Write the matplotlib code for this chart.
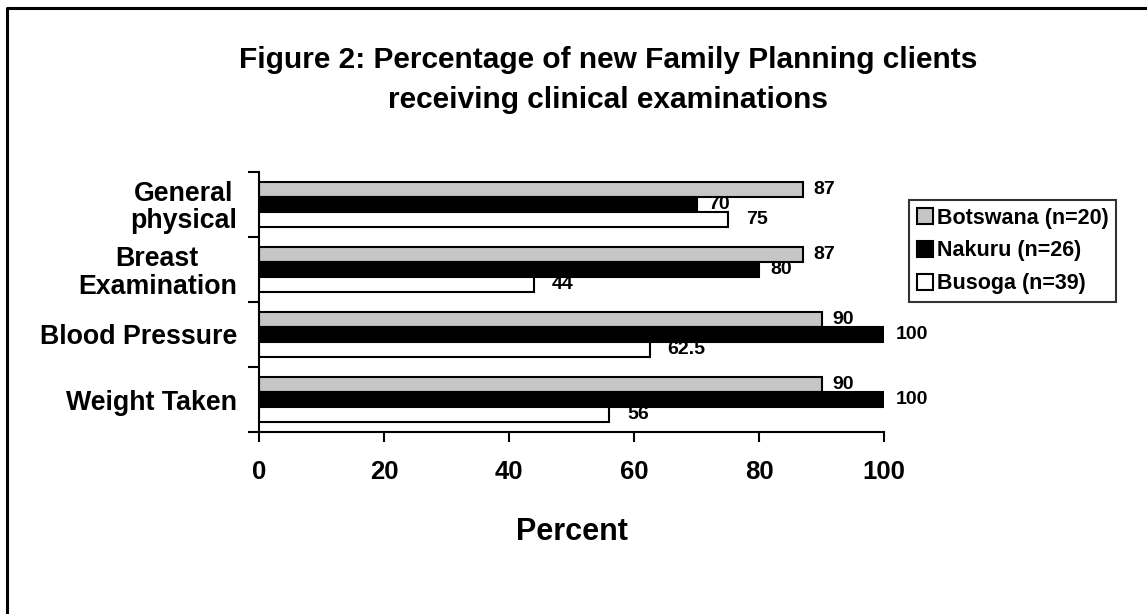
import matplotlib
matplotlib.use("Agg")
import matplotlib.pyplot as plt
from matplotlib.lines import Line2D
import numpy as np

plt.rcParams['font.family'] = ['Liberation Sans', 'DejaVu Sans']
plt.rcParams['font.weight'] = 'bold'

categories = ["General\nphysical", "Breast\nExamination", "Blood Pressure", "Weight Taken"]
series_names = ["Botswana (n=20)", "Nakuru (n=26)", "Busoga (n=39)"]
botswana = [87, 87, 90, 90]
nakuru = [70, 80, 100, 100]
busoga = [75, 44, 62.5, 56]
label_texts = [["87", "87", "90", "90"], ["70", "80", "100", "100"], ["75", "44", "62.5", "56"]]
xticks = [0, 20, 40, 60, 80, 100]

W, H = 1147, 614
fig = plt.figure(figsize=(W / 100, H / 100), dpi=100)
ax = fig.add_axes([259 / W, 1 - 432 / H, 625 / W, 260 / H])

n = len(categories)
ypos = np.arange(n)[::-1]  # first category at top
bh = 0.23
offsets = [bh, 0.0, -bh]
colors = ['#c6c6c6', 'black', 'white']
label_dx = [7.5, 8.5, 13]
values = [botswana, nakuru, busoga]

for s, (vals, off, col, name) in enumerate(zip(values, offsets, colors, series_names)):
    ax.barh(ypos + off, vals, height=bh, color=col, edgecolor='black', linewidth=1.5, label=name)
    for yi, v, t in zip(ypos, vals, label_texts[s]):
        ax.annotate(t, xy=(v, yi + off), xytext=(label_dx[s], 0), textcoords='offset points',
                    ha='left', va='center', fontsize=14, fontweight='bold')

ax.set_xlim(0, 100)
ax.set_ylim(-0.5, n - 0.5)
ax.set_xticks(xticks)
ax.set_xticklabels([str(x) for x in xticks], fontsize=18.5, fontweight='bold')
ax.tick_params(axis='x', direction='out', length=7, width=1.5, pad=13)
ax.set_yticks(ypos)
ax.set_yticklabels(categories, fontsize=19.3, fontweight='bold', multialignment='center', linespacing=1.05)
ax.set_yticks(np.arange(-0.5, n, 1.0), minor=True)
ax.tick_params(axis='y', which='major', length=0, pad=16)
ax.tick_params(axis='y', which='minor', direction='out', length=8, width=1.5)
for side in ['top', 'right']:
    ax.spines[side].set_visible(False)
for side in ['left', 'bottom']:
    ax.spines[side].set_linewidth(1.5)
ax.set_xlabel("Percent", fontsize=22, fontweight='bold', labelpad=24)

leg = ax.legend(loc='upper left', bbox_to_anchor=(909 / W, 1 - 200 / H), bbox_transform=fig.transFigure,
                frameon=True, fancybox=False, edgecolor='black', fontsize=15.5,
                handlelength=0.75, handleheight=0.75, handletextpad=0.2, labelspacing=0.55,
                borderpad=0.35, borderaxespad=0)
leg.get_frame().set_linewidth(1.5)
for t in leg.get_texts():
    t.set_fontweight('bold')

fig.text(608 / W, 1 - 80 / H, "Figure 2: Percentage of new Family Planning clients\nreceiving clinical examinations",
         ha='center', va='center', fontsize=21.5, fontweight='bold', linespacing=1.5)

fig.add_artist(Line2D([7 / W, 7 / W, 1.0], [0.0, 1 - 8 / H, 1 - 8 / H], transform=fig.transFigure,
                      color='black', linewidth=2.2))

fig.savefig("out.png", dpi=100)
